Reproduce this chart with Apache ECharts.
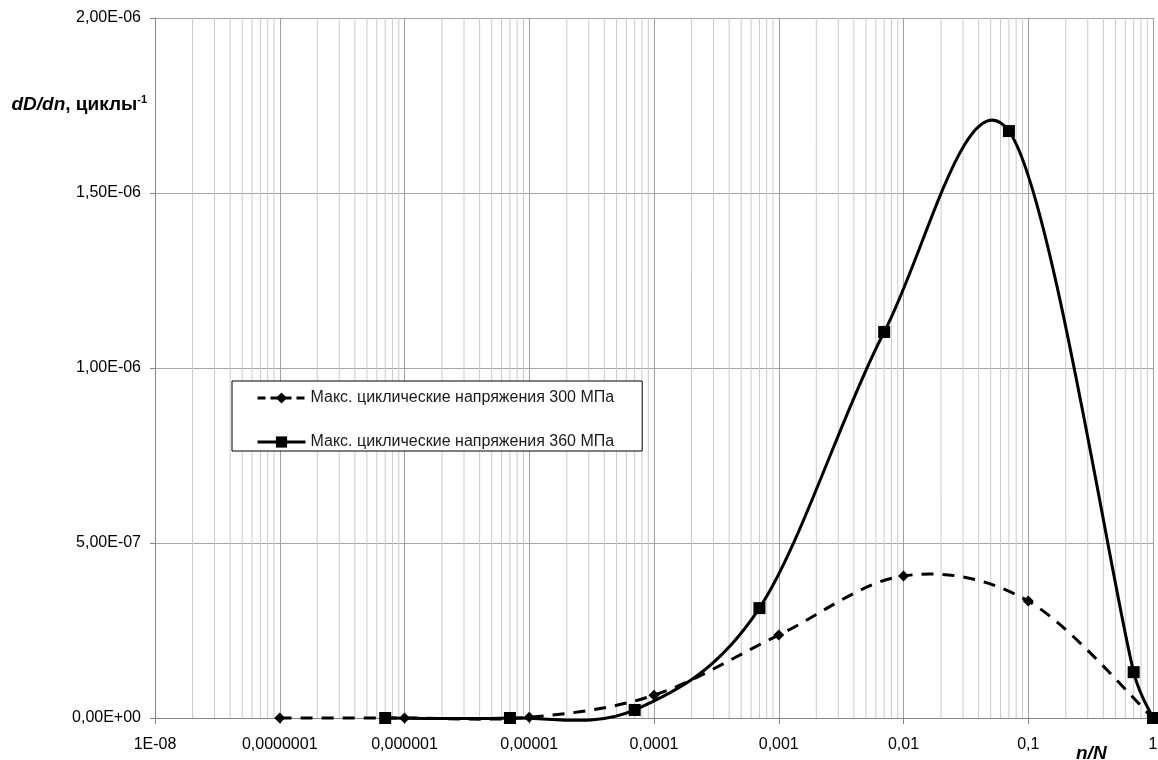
<!DOCTYPE html>
<html>
<head>
<meta charset="utf-8">
<script src="https://cdn.jsdelivr.net/npm/echarts@6/dist/echarts.min.js"></script>
<style>
  html, body { margin: 0; padding: 0; background: #fff; }
  #chart { width: 1158px; height: 760px; }
</style>
</head>
<body>
<div id="chart"></div>
<script>
  // подписи оси n/N (по декадам)
  const xTickLabels = ['1E-08', '0,0000001', '0,000001', '0,00001', '0,0001', '0,001', '0,01', '0,1', '1'];

  // 300 МПа
  const x300 = [1e-7, 1e-6, 1e-5, 1e-4, 1e-3, 1e-2, 0.1, 1];
  const y300 = [0, 0, 2e-9, 6.5e-8, 2.37e-7, 4.06e-7, 3.34e-7, 0];

  // 360 МПа
  const x360 = [7e-7, 7e-6, 7e-5, 7e-4, 7e-3, 0.07, 0.7, 1];
  const y360 = [0, 0, 2.3e-8, 3.14e-7, 1.103e-6, 1.677e-6, 1.31e-7, 0];

  const seriesNames = ['Макс. циклические напряжения 300 МПа', 'Макс. циклические напряжения 360 МПа'];

  // промежуточные линии сетки 2..9 внутри каждой декады
  const minorSteps = [2, 3, 4, 5, 6, 7, 8, 9];
  const decades = [1e-8, 1e-7, 1e-6, 1e-5, 1e-4, 1e-3, 1e-2, 1e-1];
  const minorGrid = [];
  decades.forEach(function (d) {
    minorSteps.forEach(function (k) {
      minorGrid.push([k * d]);
    });
  });

  const sci = function (v) {
    if (v === 0) return '0,00E+00';
    const e = Math.floor(Math.log10(v) + 1e-9);
    const m = v / Math.pow(10, e);
    return m.toFixed(2).replace('.', ',') + 'E' + (e < 0 ? '-' : '+') + String(Math.abs(e)).padStart(2, '0');
  };

  // плечо контрольной точки: 1/6 хорды, но не больше половины отрезка (как в Excel)
  const arm = function (dx, dy, segLen) {
    const len = Math.sqrt(dx * dx + dy * dy) / 6;
    if (len === 0) return [0, 0];
    const k = Math.min(len, segLen / 2) / len / 6;
    return [dx * k, dy * k];
  };

  // сглаживание как в Excel (Catmull-Rom, в пикселях)
  const smoothCurve = function (xs, ys, dash) {
    return function (params, api) {
      if (params.dataIndex !== 0) return null;
      const p = xs.map(function (x, i) { return api.coord([x, ys[i]]); });
      const n = p.length;
      let d = 'M' + p[0][0] + ' ' + p[0][1];
      for (let i = 0; i < n - 1; i++) {
        const p0 = p[Math.max(i - 1, 0)];
        const p1 = p[i];
        const p2 = p[i + 1];
        const p3 = p[Math.min(i + 2, n - 1)];
        const seg = Math.sqrt(Math.pow(p2[0] - p1[0], 2) + Math.pow(p2[1] - p1[1], 2));
        const a1 = arm(p2[0] - p0[0], p2[1] - p0[1], seg);
        const a2 = arm(p3[0] - p1[0], p3[1] - p1[1], seg);
        d += ' C' + (p1[0] + a1[0]) + ' ' + (p1[1] + a1[1]) + ' ' +
          (p2[0] - a2[0]) + ' ' + (p2[1] - a2[1]) + ' ' + p2[0] + ' ' + p2[1];
      }
      return {
        type: 'path',
        shape: { pathData: d },
        style: { fill: 'none', stroke: '#000', lineWidth: 3, lineDash: dash },
      };
    };
  };

  const font = '"Liberation Sans", Arial, sans-serif';

  const option = {
    animation: false,
    textStyle: { fontFamily: font },
    grid: {
      left: 155,
      right: 5,
      top: 18,
      bottom: 42,
      outerBoundsMode: 'none',
      containLabel: false,
    },
    legend: {
      data: [
        { name: seriesNames[0], lineStyle: { color: '#000', width: 3, type: [8, 5], opacity: 1 } },
        { name: seriesNames[1], lineStyle: { color: '#000', width: 3, type: 'solid', opacity: 1 } },
      ],
      orient: 'vertical',
      left: 232,
      top: 381,
      padding: [9, 28, 1, 24],
      itemGap: 28,
      itemWidth: 48,
      itemHeight: 14,
      backgroundColor: '#fff',
      borderColor: '#000',
      borderWidth: 1,
      borderRadius: 0,
      textStyle: {
        fontFamily: font,
        fontSize: 16,
        color: '#1a1a1a',
      },
    },
    xAxis: {
      type: 'log',
      logBase: 10,
      min: 1e-8,
      max: 1,
      name: 'n/N',
      nameLocation: 'end',
      nameGap: -77,
      nameTextStyle: {
        fontFamily: font,
        fontSize: 19,
        fontWeight: 'bold',
        fontStyle: 'italic',
        color: '#000',
        align: 'left',
        verticalAlign: 'top',
        padding: [26, 0, 0, 0],
      },
      axisLine: { show: true, lineStyle: { color: '#868686', width: 1 } },
      axisTick: { show: true, length: 6, lineStyle: { color: '#868686' } },
      axisLabel: {
        margin: 19,
        fontSize: 16,
        color: '#000',
        formatter: function (v) {
          const i = Math.round(Math.log10(v)) + 8;
          return xTickLabels[i] || '';
        },
      },
      splitLine: { show: true, lineStyle: { color: '#a0a0a0', width: 1 } },
    },
    yAxis: {
      type: 'value',
      min: 0,
      max: 2e-6,
      interval: 5e-7,
      name: '{i|dD/dn}{b|, циклы}{s|-1}',
      nameLocation: 'end',
      nameGap: -87,
      nameTextStyle: {
        align: 'right',
        verticalAlign: 'middle',
        padding: [0, 8, 0, 0],
        rich: {
          i: { fontFamily: font, fontSize: 19, fontWeight: 'bold', fontStyle: 'italic', color: '#000' },
          b: { fontFamily: font, fontSize: 19, fontWeight: 'bold', color: '#000' },
          s: { fontFamily: font, fontSize: 11, fontWeight: 'bold', color: '#000', verticalAlign: 'top', padding: [0, 0, 10, 0] },
        },
      },
      axisLine: { show: true, lineStyle: { color: '#868686', width: 1 } },
      axisTick: { show: true, length: 5, lineStyle: { color: '#868686' } },
      axisLabel: {
        margin: 14,
        fontSize: 16,
        color: '#000',
        formatter: sci,
      },
      splitLine: { show: true, lineStyle: { color: '#a6a6a6', width: 1 } },
    },
    series: [
      {
        name: 'minor-grid',
        type: 'custom',
        z: 1,
        silent: true,
        data: minorGrid,
        encode: { x: 0 },
        renderItem: function (params, api) {
          const cs = params.coordSys;
          const px = api.coord([api.value(0), 0])[0];
          return {
            type: 'line',
            shape: { x1: px, y1: cs.y, x2: px, y2: cs.y + cs.height },
            style: { stroke: '#cacaca', lineWidth: 1 },
          };
        },
      },
      {
        name: 'curve-300',
        type: 'custom',
        z: 3,
        silent: true,
        data: x300.map(function (x, i) { return [x, y300[i]]; }),
        encode: { x: 0, y: 1 },
        renderItem: smoothCurve(x300, y300, [12, 9]),
      },
      {
        name: 'curve-360',
        type: 'custom',
        z: 3,
        silent: true,
        data: x360.map(function (x, i) { return [x, y360[i]]; }),
        encode: { x: 0, y: 1 },
        renderItem: smoothCurve(x360, y360, null),
      },
      {
        name: seriesNames[0],
        type: 'line',
        z: 4,
        data: x300.map(function (x, i) { return [x, y300[i]]; }),
        symbol: 'diamond',
        symbolSize: 11,
        itemStyle: { color: '#000' },
        lineStyle: { color: '#000', width: 3, opacity: 0 },
      },
      {
        name: seriesNames[1],
        type: 'line',
        z: 4,
        data: x360.map(function (x, i) { return [x, y360[i]]; }),
        symbol: 'rect',
        symbolSize: 12,
        itemStyle: { color: '#000' },
        lineStyle: { color: '#000', width: 3, opacity: 0 },
      },
    ],
  };

  const myChart = echarts.init(document.getElementById('chart'));
  option && myChart.setOption(option);
  window.addEventListener('resize', function () {
    myChart && myChart.resize();
  });
</script>
</body>
</html>
